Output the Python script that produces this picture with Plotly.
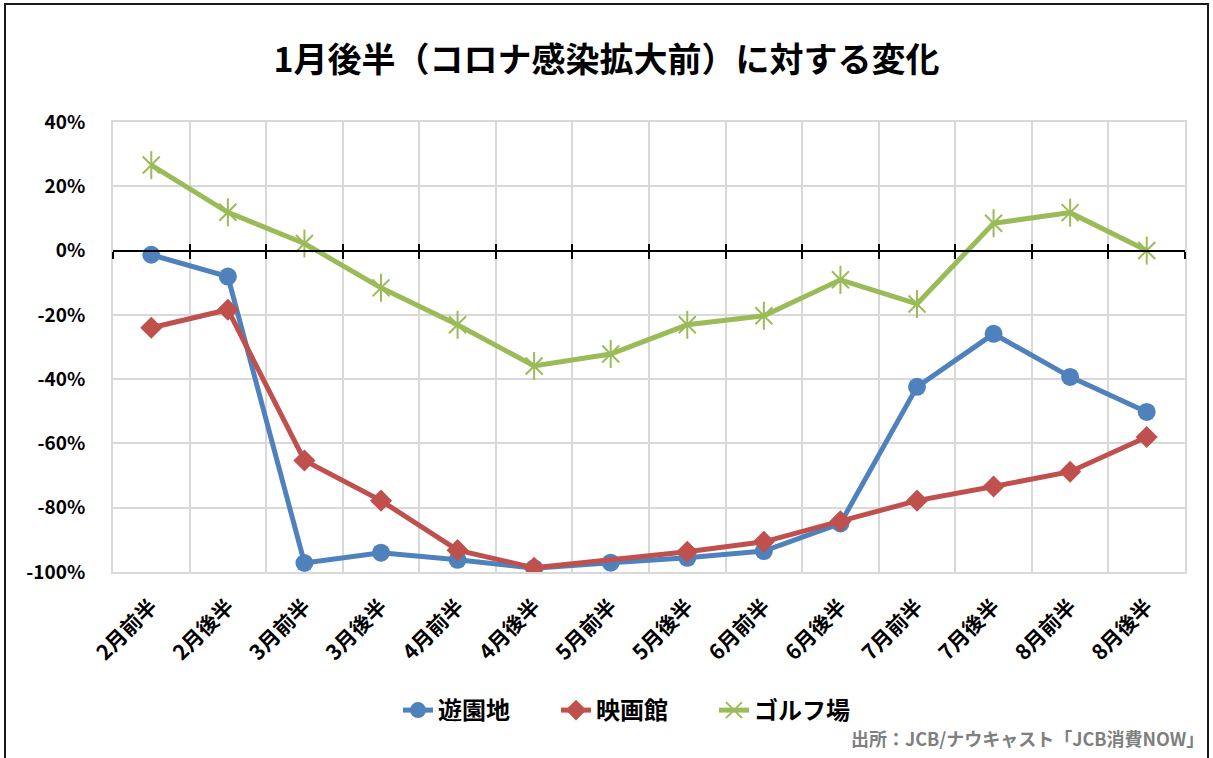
import plotly.graph_objects as go

categories = ["2月前半", "2月後半", "3月前半", "3月後半", "4月前半", "4月後半", "5月前半",
              "5月後半", "6月前半", "6月後半", "7月前半", "7月後半", "8月前半", "8月後半"]
amusement = [-1.3, -8.1, -97.2, -94.0, -96.2, -98.8, -97.1, -95.6, -93.5, -84.9, -42.4, -25.9, -39.3, -50.2]
cinema = [-24.0, -18.4, -65.3, -77.8, -93.2, -98.7, None, -93.7, -90.6, -84.2, -77.8, -73.4, -68.8, -58.0]
golf = [26.6, 11.9, 2.2, -11.6, -23.1, -35.9, -32.2, -23.1, -20.3, -9.1, -16.6, 8.5, 11.8, 0.0]
yticks = [40, 20, 0, -20, -40, -60, -80, -100]
ytick_text = ["40%", "20%", "0%", "-20%", "-40%", "-60%", "-80%", "-100%"]

title_text = "1月後半（コロナ感染拡大前）に対する変化"
source_text = "出所：JCB/ナウキャスト「JCB消費NOW」"

BLUE = "#4F81BD"
RED = "#C0504D"
GREEN = "#9BBB59"
FONT = "Noto Sans CJK JP"

W, H = 1213, 758
L, R, T, B = 113, 28, 122, 186

fig = go.Figure()
fig.add_trace(go.Scatter(x=categories, y=amusement, name="遊園地", mode="lines+markers",
                         line=dict(color=BLUE, width=5),
                         marker=dict(symbol="circle", size=18, color=BLUE)))
fig.add_trace(go.Scatter(x=categories, y=cinema, name="映画館", mode="lines+markers",
                         connectgaps=True,
                         line=dict(color=RED, width=5),
                         marker=dict(symbol="diamond", size=17, color=RED)))
fig.add_trace(go.Scatter(x=categories, y=golf, name="ゴルフ場", mode="lines+markers",
                         legendgroup="golf",
                         line=dict(color=GREEN, width=5),
                         marker=dict(symbol="x-thin-open", size=17, color=GREEN,
                                     line=dict(color=GREEN, width=2))))
fig.add_trace(go.Scatter(x=categories, y=golf, name="ゴルフ場", mode="markers",
                         legendgroup="golf", showlegend=False, hoverinfo="skip",
                         marker=dict(symbol="line-ns-open", size=20, color=GREEN,
                                     line=dict(color=GREEN, width=2))))
# invisible traces to carry the zero-line tick axes
fig.add_trace(go.Scatter(x=categories, y=[0] * len(categories), xaxis="x2", mode="markers",
                         marker=dict(opacity=0), showlegend=False, hoverinfo="skip"))
fig.add_trace(go.Scatter(x=categories, y=[0] * len(categories), xaxis="x3", mode="markers",
                         marker=dict(opacity=0), showlegend=False, hoverinfo="skip"))

zero_pos = (0 - (-100)) / (40 - (-100))
pw, ph = W - L - R, H - T - B

fig.update_layout(
    width=W, height=H,
    margin=dict(l=L, r=R, t=T, b=B, autoexpand=False),
    paper_bgcolor="white", plot_bgcolor="white",
    font=dict(family=FONT, color="black"),
    title=dict(text=title_text, x=0.5, xref="container", xanchor="center",
               y=1 - 60 / H, yanchor="middle",
               font=dict(family=FONT, size=34, weight=700, color="black")),
    showlegend=True,
    legend=dict(orientation="h", x=(398 - L) / pw, xanchor="left",
                y=(H - B - 688) / ph, yanchor="top",
                font=dict(family=FONT, size=24, weight=700, color="black"),
                entrywidth=113, bgcolor="rgba(0,0,0,0)"),
    xaxis=dict(type="category", categoryorder="array", categoryarray=categories,
               range=[-0.5, len(categories) - 0.5], automargin=False,
               tickson="boundaries", showgrid=True, gridcolor="#d9d9d9", gridwidth=2,
               showline=True, linecolor="#d9d9d9", linewidth=2, mirror=True,
               ticks="", tickangle=-45, ticklabelstandoff=12,
               tickfont=dict(family=FONT, size=21, weight=700, color="black")),
    xaxis2=dict(type="category", categoryorder="array", categoryarray=categories,
                range=[-0.5, len(categories) - 0.5], overlaying="x", anchor="free",
                position=zero_pos, side="bottom", tickson="boundaries", automargin=False,
                showgrid=False, showline=True, linecolor="black", linewidth=2,
                ticks="outside", ticklen=7, tickwidth=2, tickcolor="black",
                showticklabels=False),
    xaxis3=dict(type="category", categoryorder="array", categoryarray=categories,
                range=[-0.5, len(categories) - 0.5], overlaying="x", anchor="free",
                position=zero_pos, side="bottom", tickson="boundaries", automargin=False,
                showgrid=False, showline=False,
                ticks="inside", ticklen=7, tickwidth=2, tickcolor="black",
                showticklabels=False),
    yaxis=dict(range=[-100, 40], tickvals=yticks, ticktext=ytick_text, automargin=False,
               showgrid=True, gridcolor="#d9d9d9", gridwidth=2, zeroline=False,
               showline=True, linecolor="#d9d9d9", linewidth=2, mirror=True,
               ticks="", ticklabelstandoff=22,
               tickfont=dict(family=FONT, size=19, weight=700, color="black")),
)

fig.add_shape(type="rect", xref="paper", yref="paper",
              x0=(5 - L) / pw, x1=(1208 - L) / pw,
              y0=(H - B - 770) / ph, y1=(H - B - 4) / ph,
              line=dict(color="#1a1a1a", width=2), fillcolor="rgba(0,0,0,0)", layer="below")

fig.add_annotation(text=source_text, xref="paper", yref="paper",
                   x=(1206 - L) / pw, xanchor="right",
                   y=(H - B - 738) / ph, yanchor="middle", showarrow=False,
                   font=dict(family=FONT, size=18, weight=700, color="#7f7f7f"))

fig.write_html("out.html", config={"displayModeBar": False},
               post_script="document.body.style.margin='0px';")
